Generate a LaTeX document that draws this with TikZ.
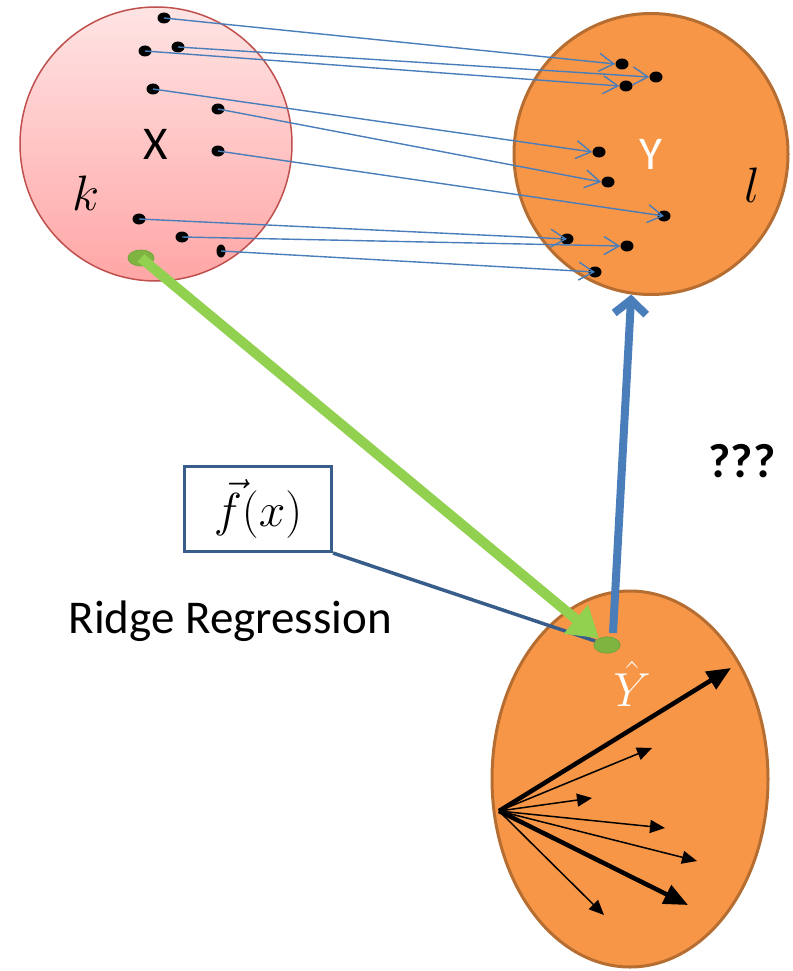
\documentclass[tikz,border=0pt]{standalone}
\usepackage{graphicx}
\usepackage{fontspec}
\setmainfont{Carlito}
\usetikzlibrary{arrows.meta,shapes.geometric}
\definecolor{mapblue}{RGB}{74,126,187}
\definecolor{darkblue}{RGB}{56,93,138}
\definecolor{orangefill}{RGB}{247,150,70}
\definecolor{brownline}{RGB}{182,109,49}
\definecolor{greenarrow}{RGB}{146,208,80}
\definecolor{greendot}{RGB}{128,180,64}
\definecolor{xborder}{RGB}{192,80,77}
\newcommand{\bigmath}[2]{\scalebox{#1}{\fontsize{20.74}{24}\selectfont$#2$}}
\tikzset{
  dot/.style={ellipse, fill=black, inner sep=0pt, minimum width=13pt, minimum height=11pt},
  vdot/.style={ellipse, fill=black, inner sep=0pt, minimum width=9pt, minimum height=13pt},
  maparrow/.style={draw=mapblue, line width=1.4pt, -{Straight Barb[length=15pt,width=18pt,line width=1.4pt]}},
  orangeset/.style={ellipse, fill=orangefill, draw=brownline, line width=3pt, inner sep=0pt},
  vecthin/.style={line width=1.5pt, -{Triangle[length=15pt,width=13pt]}},
  vecthick/.style={line width=4.5pt, -{Triangle[length=24pt,width=20pt]}},
  greenspot/.style={ellipse, fill=greendot, draw=greenarrow!80!black, line width=0.8pt, inner sep=0pt, minimum width=26pt, minimum height=16pt},
  bigtext/.style={font=\fontsize{47}{52}\selectfont}
}
\begin{document}
\begin{tikzpicture}[x=1pt,y=-1pt]
\useasboundingbox (0,0) rectangle (792,971);
% set X
\node[ellipse, draw=xborder, line width=1.5pt, top color={rgb,255:red,255;green,228;blue,228}, bottom color={rgb,255:red,255;green,166;blue,166}, minimum width=272pt, minimum height=274pt, inner sep=0pt, bigtext] (X) at (156,144) {X};
\node (k) at (86,193) {\bigmath{2.4}{k}};
% set Y
\node[orangeset, minimum width=274pt, minimum height=281pt, bigtext, text=white] (Y) at (651,154) {Y};
\node (l) at (752,185) {\bigmath{2.4}{l}};
% set Yhat
\node[orangeset, minimum width=276pt, minimum height=376pt] (Yh) at (630,779) {};
\node[text=white] (yhl) at (632,684) {\bigmath{2.3}{\hat{Y}}};
% dots in X
\node[dot] (d1) at (164,18) {};
\node[dot] (d2) at (178,47) {};
\node[dot] (d3) at (145,51) {};
\node[dot] (d4) at (153,89) {};
\node[dot] (d5) at (218,109) {};
\node[dot] (d6) at (218,151) {};
\node[dot] (d7) at (139,219) {};
\node[dot] (d8) at (182,237) {};
\node[vdot] (d9) at (221,251) {};
% dots in Y
\node[dot] (e1) at (622,64) {};
\node[dot] (e2) at (656,77) {};
\node[dot] (e3) at (626,86) {};
\node[dot] (e4) at (599,152) {};
\node[dot] (e5) at (608,182) {};
\node[dot] (e6) at (664,216) {};
\node[dot] (e7) at (567,239) {};
\node[dot] (e8) at (627,246) {};
\node[dot] (e9) at (595,272) {};
% mapping arrows
\draw[maparrow] (d1.center) -- (e1.west);
\draw[maparrow] (d2.center) -- (e2.west);
\draw[maparrow] (d3.center) -- (e3.west);
\draw[maparrow] (d4.center) -- (e4.west);
\draw[maparrow] (d5.center) -- (e5.west);
\draw[maparrow] (d6.center) -- (e6.center);
\draw[maparrow] (d7.center) -- (e7.center);
\draw[maparrow] (d8.center) -- (e8.west);
\draw[maparrow] (d9.center) -- (e9.center);
% vectors in Yhat
\coordinate (o) at (499,811);
\coordinate (v1) at (731,668);
\coordinate (v2) at (652,748);
\coordinate (v3) at (592,798);
\coordinate (v4) at (665,828);
\coordinate (v5) at (697,861);
\coordinate (v6) at (688,905);
\coordinate (v7) at (604,915);
\draw[vecthick] (o) -- (v1);
\draw[vecthin] (o) -- (v2);
\draw[vecthin] (o) -- (v3);
\draw[vecthin] (o) -- (v4);
\draw[vecthin] (o) -- (v5);
\draw[vecthick] (o) -- (v6);
\draw[vecthin] (o) -- (v7);
% green spots
\node[greenspot] (gx) at (141,258) {};
\node[greenspot] (gy) at (607,645) {};
% f(x) box
\node[draw=darkblue, line width=3pt, fill=white, minimum width=147pt, minimum height=85pt, inner sep=0pt] (fbox) at (258,509) {\bigmath{2.3}{\vec{f}(x)}};
\draw[darkblue, line width=3.5pt] (fbox.south east) -- (gy);
% green arrow
\draw[greenarrow, line width=10pt, -{Triangle[length=30pt,width=36pt]}] (gx.center) -- (gy);
% blue arrow
\coordinate (bstart) at (613,633);
\draw[mapblue, line width=8pt, -{Straight Barb[length=14pt,width=32pt,line width=8pt]}] (bstart) -- (Y.262);
\node[greenspot] at (gy) {};
% texts
\node[bigtext, anchor=base west] (rr) at (65,633) {Ridge Regression};
\node[font=\fontsize{48}{52}\selectfont\bfseries, anchor=base] (q) at (742,477) {???};
\end{tikzpicture}
\end{document}
